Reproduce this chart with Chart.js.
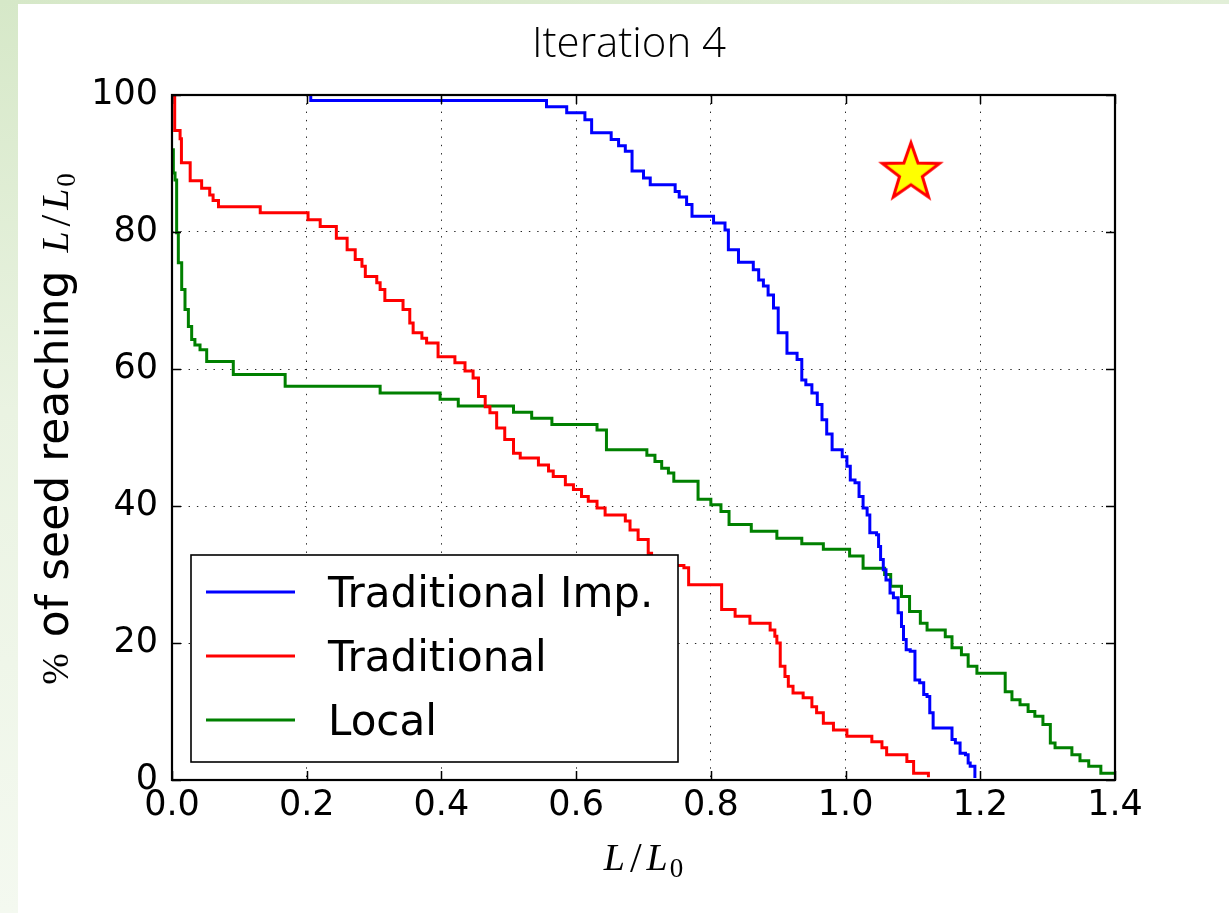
<!DOCTYPE html>
<html><head><meta charset="utf-8">
<script src="https://cdn.jsdelivr.net/npm/chart.js@4"></script>
<style>
html,body{margin:0;padding:0;background:#fff;width:1229px;height:913px;overflow:hidden;}
#stripLeft{position:absolute;left:0;top:0;width:18px;height:913px;background:linear-gradient(to bottom,#d6e8c8,#eaf3e2 45%,#f4f9f0);}
#stripTop{position:absolute;left:0;top:0;width:1229px;height:4px;background:linear-gradient(to right,#d6e8c8,#e2efd8);}
#wrap{position:absolute;left:0;top:0;width:1229px;height:913px;}
</style></head><body>
<div id="stripLeft"></div><div id="stripTop"></div>
<div id="wrap"><canvas id="c" width="1229" height="913"></canvas></div>
<script>
// ---- data ----
const seriesLabels = ['Traditional Imp.', 'Traditional', 'Local'];
const seriesColors = ['#0000ff', '#ff0000', '#008000'];

const tradImpX = [0.205,0.206,0.556,0.586,0.613,0.623,0.652,0.663,0.673,0.683,0.700,0.710,0.747,0.753,0.764,0.772,0.804,0.821,0.826,0.841,0.863,0.871,0.878,0.885,0.893,0.900,0.913,0.928,0.935,0.941,0.950,0.958,0.965,0.972,0.980,0.995,1.002,1.007,1.014,1.020,1.026,1.032,1.036,1.046,1.049,1.052,1.056,1.060,1.066,1.071,1.078,1.083,1.086,1.090,1.096,1.103,1.110,1.116,1.121,1.125,1.130,1.158,1.163,1.170,1.178,1.182,1.185,1.192];
const tradImpY = [100,99.2,98.3,97.4,96.4,94.5,93.5,92.6,91.8,88.9,87.9,86.9,85.9,85.1,84.0,82.3,81.3,80.3,77.4,75.6,74.5,73.0,72.1,70.8,68.9,65.3,62.3,61.4,58.4,57.7,56.5,54.8,52.6,50.5,48.2,47.2,45.8,43.8,43.4,41.4,39.7,38.7,36.1,35.8,34.1,32.2,30.7,29.2,27.3,26.6,24.4,22.4,20.5,19.0,18.8,14.6,14.2,12.5,12.2,9.8,7.6,5.9,5.4,3.9,3.7,2.5,2.0,0.3];

const tradX = [0,0.004,0.012,0.014,0.027,0.044,0.056,0.061,0.069,0.131,0.202,0.220,0.244,0.260,0.272,0.282,0.287,0.304,0.309,0.316,0.343,0.353,0.358,0.371,0.378,0.395,0.420,0.435,0.447,0.455,0.465,0.472,0.482,0.494,0.507,0.517,0.544,0.559,0.566,0.584,0.596,0.608,0.618,0.631,0.643,0.673,0.680,0.692,0.707,0.712,0.760,0.767,0.816,0.836,0.858,0.888,0.895,0.898,0.903,0.910,0.915,0.922,0.937,0.950,0.957,0.967,0.982,1.002,1.039,1.054,1.061,1.091,1.101,1.123];
const tradY = [100,94.8,93.6,90.1,87.5,86.4,85.4,84.6,83.7,82.8,81.8,80.8,79.1,77.4,76.0,75.0,73.5,72.6,71.6,70.0,68.7,66.7,65.3,64.5,63.8,61.8,60.9,59.7,58.7,56.0,54.5,53.6,51.4,49.7,47.7,47.0,46.0,45.1,44.3,43.1,42.4,41.4,40.7,39.7,38.7,37.8,36.5,35.1,33.1,31.3,31.0,28.5,24.9,23.9,22.9,21.9,21.0,20.0,16.6,15.1,13.7,12.7,12.0,10.7,9.8,8.3,7.3,6.4,5.6,4.7,3.7,2.7,1.0,0.4];

const localX = [0,0.002,0.0045,0.0069,0.0094,0.0144,0.0193,0.0243,0.0292,0.034,0.0416,0.0515,0.091,0.168,0.309,0.398,0.425,0.507,0.534,0.564,0.631,0.645,0.705,0.717,0.727,0.737,0.745,0.781,0.800,0.815,0.827,0.860,0.898,0.935,0.967,1.006,1.026,1.058,1.067,1.083,1.095,1.111,1.121,1.148,1.158,1.172,1.182,1.195,1.237,1.247,1.259,1.271,1.281,1.293,1.304,1.311,1.336,1.348,1.361,1.379,1.4];
const localY = [92.0,88.6,87.6,79.9,75.5,71.6,68.7,66.2,64.3,63.5,62.8,61.1,59.2,57.5,56.5,55.6,54.6,53.7,52.8,51.9,51.1,48.2,47.4,46.5,45.5,44.8,43.6,41.0,40.2,39.2,37.3,36.3,35.3,34.5,33.7,32.7,30.9,30.0,28.3,26.8,24.6,22.9,21.9,20.9,19.3,18.3,16.6,15.6,12.9,11.7,11.0,10.0,9.3,8.1,5.4,4.7,3.7,2.8,2.0,1.0,1.0];

const starX = [1.097];
const starY = [88.8];

const xTickValues = [0,0.2,0.4,0.6,0.8,1.0,1.2,1.4];
const xTickLabels = ['0.0','0.2','0.4','0.6','0.8','1.0','1.2','1.4'];
const yTickValues = [0,20,40,60,80,100];
const yTickLabels = ['0','20','40','60','80','100'];

const titleText = 'Iteration 4';

// ---- helpers ----
function pts(xs, ys) { return xs.map((x, i) => ({ x: x, y: ys[i] })); }

function makeStar() {
  const c = document.createElement('canvas');
  c.width = 70; c.height = 70;
  const g = c.getContext('2d');
  const cx = 35, cy = 36, R = 30, r = 12;
  g.beginPath();
  for (let k = 0; k < 10; k++) {
    const a = -Math.PI / 2 + k * Math.PI / 5;
    const rr = (k % 2 === 0) ? R : r;
    const px = cx + rr * Math.cos(a), py = cy + rr * Math.sin(a);
    if (k === 0) g.moveTo(px, py); else g.lineTo(px, py);
  }
  g.closePath();
  g.fillStyle = '#ffff00';
  g.fill();
  g.lineWidth = 3;
  g.lineJoin = 'miter';
  g.strokeStyle = '#ff0000';
  g.stroke();
  return c;
}

function drawParts(ctx, parts, startX, baseY) {
  let x = startX;
  parts.forEach(p => {
    ctx.font = p.f;
    ctx.fillText(p.t, x, baseY + (p.dy || 0));
    x += ctx.measureText(p.t).width + (p.gap || 0);
  });
}
function partsWidth(ctx, parts) {
  let w = 0;
  parts.forEach((p, i) => {
    ctx.font = p.f;
    w += ctx.measureText(p.t).width + (i < parts.length - 1 ? (p.gap || 0) : 0);
  });
  return w;
}

const serifI = 'italic 38px "Liberation Serif"';
const slashF = '42px "Liberation Serif"';
const mathLabel = [
  { t: 'L', f: serifI, gap: 5 },
  { t: '/', f: slashF, gap: 5, dy: 2 },
  { t: 'L', f: serifI, gap: 2 },
  { t: '0', f: '27px "Liberation Serif"', dy: 7 }
];

const decor = {
  id: 'decor',
  afterDraw(chart) {
    const ctx = chart.ctx;
    const a = chart.chartArea;
    const xs = chart.scales.x, ys = chart.scales.y;
    ctx.save();
    // inward ticks on all four sides
    ctx.strokeStyle = '#000';
    ctx.lineWidth = 1.5;
    const tl = 9;
    ctx.beginPath();
    xTickValues.forEach(v => {
      const px = Math.round(xs.getPixelForValue(v)) + 0.5;
      ctx.moveTo(px, a.bottom); ctx.lineTo(px, a.bottom - tl);
      ctx.moveTo(px, a.top); ctx.lineTo(px, a.top + tl);
    });
    yTickValues.forEach(v => {
      const py = Math.round(ys.getPixelForValue(v)) + 0.5;
      ctx.moveTo(a.left, py); ctx.lineTo(a.left + tl, py);
      ctx.moveTo(a.right, py); ctx.lineTo(a.right - tl, py);
    });
    ctx.stroke();
    // frame
    ctx.lineWidth = 2.2;
    ctx.strokeRect(a.left, a.top, a.right - a.left, a.bottom - a.top);

    // legend
    const lx = a.left + 19, ly = a.bottom - 225, lw = 487, lh = 207;
    ctx.fillStyle = '#fff';
    ctx.fillRect(lx, ly, lw, lh);
    ctx.lineWidth = 1.6;
    ctx.strokeStyle = '#000';
    ctx.strokeRect(lx, ly, lw, lh);
    ctx.font = '42px "DejaVu Sans"';
    ctx.textBaseline = 'alphabetic';
    ctx.textAlign = 'left';
    for (let i = 0; i < 3; i++) {
      const yy = ly + 37 + 64 * i;
      ctx.strokeStyle = chart.data.datasets[i].borderColor;
      ctx.lineWidth = 3;
      ctx.beginPath();
      ctx.moveTo(lx + 15, yy); ctx.lineTo(lx + 104, yy);
      ctx.stroke();
      ctx.fillStyle = '#000';
      ctx.fillText(chart.data.datasets[i].label, lx + 137, yy + 15);
    }

    // title
    ctx.fillStyle = '#000';
    ctx.font = '300 42px "Open Sans"';
    ctx.textAlign = 'center';
    ctx.fillText(titleText, 629, 57);

    // x axis label
    ctx.textAlign = 'left';
    const cx = (a.left + a.right) / 2;
    const wx = partsWidth(ctx, mathLabel);
    drawParts(ctx, mathLabel, cx - wx / 2, 870);

    // y axis label
    const yParts = [
      { t: '%', f: '38px "Liberation Serif"', gap: 16 },
      { t: 'of seed reaching', f: '44px "DejaVu Sans"', gap: 18 }
    ].concat(mathLabel);
    ctx.save();
    ctx.translate(68, 429);
    ctx.rotate(-Math.PI / 2);
    const wy = partsWidth(ctx, yParts);
    drawParts(ctx, yParts, -wy / 2, 0);
    ctx.restore();

    ctx.restore();
  }
};

const starImg = makeStar();

new Chart(document.getElementById('c'), {
  type: 'line',
  data: {
    datasets: [
      { label: seriesLabels[0], data: pts(tradImpX, tradImpY), borderColor: seriesColors[0], borderWidth: 3, pointRadius: 0, stepped: 'before', fill: false },
      { label: seriesLabels[1], data: pts(tradX, tradY), borderColor: seriesColors[1], borderWidth: 3, pointRadius: 0, stepped: 'before', fill: false },
      { label: seriesLabels[2], data: pts(localX, localY), borderColor: seriesColors[2], borderWidth: 3, pointRadius: 0, stepped: 'before', fill: false },
      { label: 'target', data: pts(starX, starY), showLine: false, pointStyle: starImg, pointRadius: 30, borderWidth: 0 }
    ]
  },
  options: {
    responsive: false,
    animation: false,
    devicePixelRatio: 1,
    layout: { padding: { top: 95, right: 114, bottom: 0, left: 0 } },
    plugins: { legend: { display: false }, tooltip: { enabled: false }, title: { display: false } },
    scales: {
      x: {
        type: 'linear', min: 0, max: 1.4,
        afterBuildTicks: s => { s.ticks = xTickValues.map(v => ({ value: v })); },
        afterFit: s => { s.height = 133; },
        ticks: { callback: (v, i) => xTickLabels[i], font: { family: 'DejaVu Sans', size: 35, lineHeight: 1 }, color: '#000', padding: 8, maxRotation: 0, autoSkip: false },
        grid: { color: 'rgba(0,0,0,0.85)', lineWidth: 1, drawTicks: false },
        border: { display: false, dash: [1.4, 6.9] }
      },
      y: {
        type: 'linear', min: 0, max: 100,
        afterBuildTicks: s => { s.ticks = yTickValues.map(v => ({ value: v })); },
        afterFit: s => { s.width = 172; },
        ticks: { callback: (v, i) => yTickLabels[i], font: { family: 'DejaVu Sans', size: 35, lineHeight: 1 }, color: '#000', padding: 14, autoSkip: false },
        grid: { color: 'rgba(0,0,0,0.85)', lineWidth: 1, drawTicks: false },
        border: { display: false, dash: [1.4, 6.9] }
      }
    }
  },
  plugins: [decor]
});
</script>
</body></html>
